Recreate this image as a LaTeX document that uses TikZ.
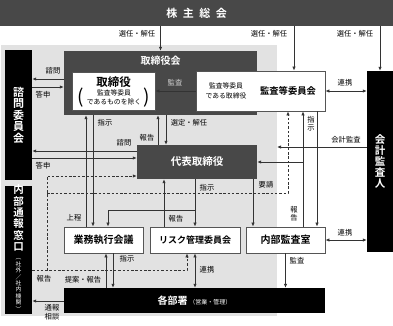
\documentclass[tikz,border=0pt]{standalone}
\usepackage{fontspec}
\setmainfont{Noto Sans CJK JP}[BoldFont={Noto Sans CJK JP Bold}]
\usetikzlibrary{arrows.meta,positioning,calc}
\definecolor{bggray}{HTML}{E2E2E2}
\definecolor{boxgray}{HTML}{484848}
\definecolor{linegray}{HTML}{333333}
\definecolor{framegray}{HTML}{555555}

\begin{document}
\begin{tikzpicture}[x=1pt,y=-1pt,
    darkbox/.style={rectangle,fill=boxgray,text=white,inner sep=0pt},
    blackbox/.style={rectangle,fill=black,text=white,inner sep=0pt},
    whitebox/.style={rectangle,draw=framegray,fill=white,line width=0.8pt,inner sep=0pt,font=\fontsize{10}{12}\selectfont\bfseries},
    vtext/.style={align=center,inner sep=0pt,text=white},
    lbl/.style={inner sep=0pt,font=\fontsize{7.3}{8}\selectfont},
    arrow/.style={-{Latex[length=4pt,width=3.4pt]},line width=0.75pt,draw=linegray},
    twoway/.style={{Latex[length=4pt,width=3.4pt]}-{Latex[length=4pt,width=3.4pt]},line width=0.75pt,draw=linegray},
    dasharrow/.style={arrow,dash pattern=on 2.5pt off 1.8pt}
    ]

    \useasboundingbox (0,0) rectangle (393,325);
    \fill[bggray] (1,45) rectangle (277,316);

    % boxes
    \node[darkbox,minimum width=393pt,minimum height=26pt,font=\fontsize{11}{13}\selectfont\bfseries] (meeting) at (196.5,13) {株\hspace{5.5pt}主\hspace{5.5pt}総\hspace{5.5pt}会};

    \node[blackbox,vtext,minimum width=27pt,minimum height=130pt,font=\fontsize{11}{11.5}\selectfont\bfseries] (advisory) at (18.5,115) {諮\\問\\委\\員\\会};

    \node[blackbox,minimum width=27pt,minimum height=128pt] (whistle) at (18.5,250) {};
    \node[vtext,font=\fontsize{10.5}{11.3}\selectfont\bfseries] (whistleT) at (18.5,218) {内\\部\\通\\報\\窓\\口};
    \node[vtext,font=\fontsize{5.8}{6.4}\selectfont] (whistleN) at (18.5,285) {︵\\社\\外\\／\\社\\内\\機\\関\\︶};

    \node[darkbox,minimum width=193pt,minimum height=64pt] (board) at (160.5,83) {};
    \node[inner sep=0pt,text=white,font=\fontsize{10}{12}\selectfont\bfseries] (boardT) at (160.5,61) {取締役会};

    \node[whitebox,minimum width=83pt,minimum height=38pt] (directors) at (113.5,91) {};
    \node[inner sep=0pt,font=\fontsize{11.5}{12}\selectfont\bfseries] (directorsT) at (113.5,82) {取締役};
    \node[inner sep=0pt,align=center,font=\fontsize{6.8}{9}\selectfont] (directorsN) at (114,97.5) {監査等委員\\であるものを除く};
    \node[inner sep=0pt,font=\fontsize{19}{19}\selectfont] (directorsL) at (80.5,97.5) {(};
    \node[inner sep=0pt,font=\fontsize{19}{19}\selectfont] (directorsR) at (147,97.5) {)};

    \node[whitebox,minimum width=129pt,minimum height=40pt] (auditcom) at (260.5,91) {};
    \node[inner sep=0pt,align=center,font=\fontsize{6.8}{9.5}\selectfont] (auditcomN) at (226,91) {監査等委員\\である取締役};
    \node[inner sep=0pt,font=\fontsize{9.3}{11}\selectfont\bfseries] (auditcomT) at (288,91) {監査等委員会};

    \node[blackbox,vtext,minimum width=26pt,minimum height=181pt,font=\fontsize{10.5}{11}\selectfont\bfseries] (accountant) at (380,161.5) {会\\計\\監\\査\\人};

    \node[darkbox,minimum width=120pt,minimum height=34pt,font=\fontsize{10.5}{12}\selectfont\bfseries] (ceo) at (197,162) {代表取締役};

    \node[whitebox,minimum width=79pt,minimum height=26pt] (exec) at (103.5,240) {業務執行会議};
    \node[whitebox,minimum width=90pt,minimum height=26pt,font=\fontsize{9}{11}\selectfont\bfseries] (risk) at (195,240) {リスク管理委員会};
    \node[whitebox,minimum width=79pt,minimum height=26pt] (internal) at (285.5,240) {内部監査室};

    \node[blackbox,minimum width=261pt,minimum height=25pt] (depts) at (194.5,300.5) {\fontsize{10}{12}\selectfont\bfseries 各部署\,{\fontsize{6}{7}\selectfont\mdseries（営業・管理）}};

    % lanes
    \coordinate (auditX) at (294,0);
    \coordinate (submitX) at (86,0);
    \coordinate (orderX) at (93,0);
    \coordinate (reportX) at (158,0);
    \coordinate (electX) at (166,0);
    \coordinate (branchX) at (108,0);
    \coordinate (riskRepX) at (164,0);
    \coordinate (requestX) at (253,0);
    \coordinate (iaReportX) at (303,0);
    \coordinate (iaOrderX) at (317,0);
    \coordinate (proposeX) at (106,0);
    \coordinate (execOrderX) at (113,0);
    \coordinate (hotX) at (47,0);
    \coordinate (riskDashX) at (187,0);
    \coordinate (reqDashX) at (288,0);
    \coordinate (consultY) at (0,79);
    \coordinate (answerY) at (0,87);
    \coordinate (consult2Y) at (0,151);
    \coordinate (answer2Y) at (0,158);
    \coordinate (ceoDashY) at (0,176);
    \coordinate (reqDashY) at (0,193);
    \coordinate (branchY) at (0,210);
    \coordinate (hotY) at (0,270);
    \coordinate (notifyY) at (0,301);
    \coordinate (companyEdge) at (277,147);

    % connectors
    \draw[arrow] (meeting.south -| board) -- (board.north);
    \draw[arrow] (meeting.south -| auditX) -- (auditcom.north -| auditX);
    \draw[arrow] (meeting.south -| accountant) -- (accountant.north);

    \draw[arrow] (board.west |- consultY) -- (advisory.east |- consultY);
    \draw[arrow] (advisory.east |- answerY) -- (board.west |- answerY);
    \draw[arrow] (auditcom.west) -- (directors.east);
    \draw[twoway] (auditcom.east) -- (auditcom.east -| accountant.west);

    \draw[arrow] (exec.north -| submitX) -- (board.south -| submitX);
    \draw[arrow] (board.south -| orderX) -- (exec.north -| orderX);
    \draw[arrow] (ceo.north -| reportX) -- (board.south -| reportX);
    \draw[arrow] (board.south -| electX) -- (ceo.north -| electX);
    \draw[arrow] (ceo.west |- consult2Y) -- (advisory.east |- consult2Y);
    \draw[arrow] (advisory.east |- answer2Y) -- (ceo.west |- answer2Y);

    \draw[dasharrow] (whistle.east |- hotY) -| (risk.south -| riskDashX);
    \draw[dasharrow] (hotX |- hotY) |- (ceo.west |- ceoDashY);
    \draw[dasharrow] (hotX |- reqDashY) -| (auditcom.south -| reqDashX);

    \draw[arrow] (ceo.south -| risk) -- (risk.north);
    \draw[arrow] (risk.north |- branchY) -| (exec.north -| branchX);
    \draw[arrow] (risk.north -| riskRepX) -- (ceo.south -| riskRepX);
    \draw[arrow] (ceo.south -| requestX) -- (internal.north -| requestX);
    \draw[arrow] (internal.north -| iaReportX) -- (auditcom.south -| iaReportX);
    \draw[arrow] (iaReportX |- ceo.east) -- (ceo.east);
    \draw[arrow] (auditcom.south -| iaOrderX) -- (internal.north -| iaOrderX);
    \draw[arrow] (accountant.west |- companyEdge) -- (companyEdge);
    \draw[twoway] (internal.east) -- (internal.east -| accountant.west);
    \draw[arrow] (internal.south) -- (internal.south |- depts.north);

    \draw[arrow] (depts.north -| proposeX) -- (exec.south -| proposeX);
    \draw[arrow] (exec.south -| execOrderX) -- (depts.north -| execOrderX);
    \draw[twoway] (risk.south) -- (risk.south |- depts.north);
    \draw[arrow] (depts.west |- notifyY) -- (whistle.east |- notifyY);

    % labels
    \node[lbl] (selA) at (137,34) {選任・解任};
    \node[lbl] (selB) at (269,34) {選任・解任};
    \node[lbl] (selC) at (355,34) {選任・解任};
    \node[lbl] (consultA) at (53,71) {諮問};
    \node[lbl] (answerA) at (43,95) {答申};
    \node[lbl,text=gray!35] (auditA) at (175,83) {監査};
    \node[lbl] (coopA) at (345,83) {連携};
    \node[lbl] (orderA) at (105,123) {指示};
    \node[lbl] (electA) at (189,123) {選定・解任};
    \node[lbl] (reportA) at (147,138) {報告};
    \node[lbl] (consultB) at (124,143) {諮問};
    \node[lbl] (answerB) at (43,166) {答申};
    \node[lbl,align=center,font=\fontsize{7.3}{8.3}\selectfont] (orderV) at (311,124) {指\\示};
    \node[lbl] (accAudit) at (346,140) {会計監査};
    \node[lbl] (requestA) at (266,185) {要請};
    \node[lbl] (orderB) at (207,188) {指示};
    \node[lbl,align=center,font=\fontsize{7.3}{8.3}\selectfont] (reportV) at (294,214) {報\\告};
    \node[lbl] (submitA) at (74,218) {上程};
    \node[lbl] (reportB) at (176,219) {報告};
    \node[lbl] (coopB) at (345,233) {連携};
    \node[lbl] (orderC) at (127,259) {指示};
    \node[lbl] (auditB) at (297,261) {監査};
    \node[lbl] (coopC) at (207,270) {連携};
    \node[lbl] (reportC) at (44,279) {報告};
    \node[lbl] (proposeA) at (83,280) {提案・報告};
    \node[lbl,align=center,font=\fontsize{7.3}{8.5}\selectfont] (notifyA) at (52,312) {通報\\相談};

  \end{tikzpicture}
\end{document}
